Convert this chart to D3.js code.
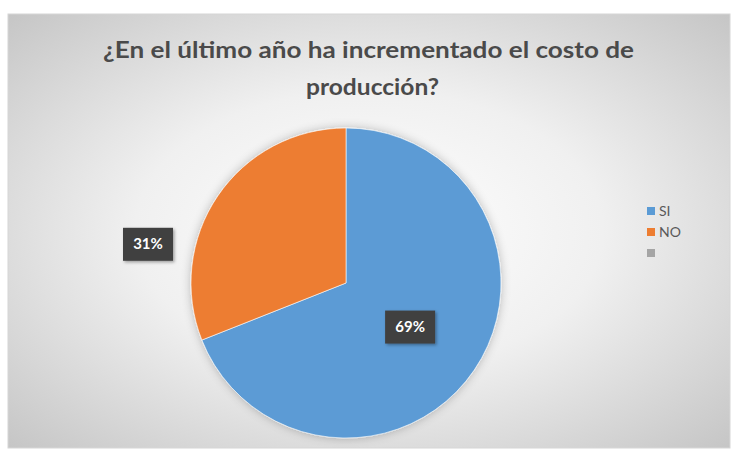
<!DOCTYPE html>
<html>
<head>
<meta charset="utf-8">
<script src="https://cdn.jsdelivr.net/npm/d3@7"></script>
<style>
  html, body { margin: 0; padding: 0; background: #ffffff; }
  svg { display: block; }
</style>
</head>
<body>
<svg id="chart" width="739" height="455"></svg>
<script>
// Survey answers
const categories = ["SI", "NO", ""];
const values = [69, 31, 0];
const colors = ["#5b9bd5", "#ed7d31", "#a5a5a5"];
const titleLines = ["¿En el último año ha incrementado el costo de", "producción?"];

const W = 739, H = 455;
const frame = { x: 8, y: 14, w: 722, h: 434 };
const cx = 346, cy = 283, r = 155;

const svg = d3.select("#chart");
const defs = svg.append("defs");

const bg = defs.append("radialGradient").attr("id", "bg")
  .attr("cx", "50%").attr("cy", "50%").attr("r", "72%");
bg.append("stop").attr("offset", "0%").attr("stop-color", "#ffffff");
bg.append("stop").attr("offset", "45%").attr("stop-color", "#f0f0f0");
bg.append("stop").attr("offset", "100%").attr("stop-color", "#c4c4c4");

const glow = defs.append("filter").attr("id", "glow")
  .attr("x", "-20%").attr("y", "-20%").attr("width", "140%").attr("height", "140%");
glow.append("feGaussianBlur").attr("in", "SourceAlpha").attr("stdDeviation", 5).attr("result", "b");
glow.append("feFlood").attr("flood-color", "#000").attr("flood-opacity", 0.25);
glow.append("feComposite").attr("in2", "b").attr("operator", "in").attr("result", "s");
const gm = glow.append("feMerge");
gm.append("feMergeNode").attr("in", "s");
gm.append("feMergeNode").attr("in", "SourceGraphic");

const lblShadow = defs.append("filter").attr("id", "lblShadow")
  .attr("x", "-30%").attr("y", "-30%").attr("width", "160%").attr("height", "160%");
lblShadow.append("feDropShadow").attr("dx", 1.5).attr("dy", 1.5).attr("stdDeviation", 1.5)
  .attr("flood-color", "#000").attr("flood-opacity", 0.35);

svg.append("rect")
  .attr("x", frame.x).attr("y", frame.y).attr("width", frame.w).attr("height", frame.h)
  .attr("fill", "url(#bg)").attr("stroke", "#d6d6d6").attr("stroke-width", 1);

// Title, two centred lines stretched to the header width
const titleWidths = [531, 133];
const titleX = [368.5, 372.5];
svg.append("g").selectAll("text").data(titleLines).join("text")
  .attr("x", (d, i) => titleX[i])
  .attr("y", (d, i) => 58 + i * 37)
  .attr("text-anchor", "middle")
  .attr("font-family", "Lato, 'Open Sans', sans-serif")
  .attr("font-weight", "bold")
  .attr("font-size", 23)
  .attr("textLength", (d, i) => titleWidths[i])
  .attr("lengthAdjust", "spacingAndGlyphs")
  .attr("fill", "#4a4a4a")
  .text(d => d);

// Pie
const data = categories.map((c, i) => ({ cat: c, value: values[i], color: colors[i] }));
const pie = d3.pie().value(d => d.value).sort(null);
const arcs = pie(data);
const arc = d3.arc().innerRadius(0).outerRadius(r);

const g = svg.append("g").attr("transform", `translate(${cx},${cy})`);
g.append("g").attr("filter", "url(#glow)")
  .selectAll("path").data(arcs.filter(a => a.data.value > 0)).join("path")
  .attr("d", arc)
  .attr("fill", d => d.data.color)
  .attr("stroke", "#ffffff").attr("stroke-width", 0.6);

// Data labels: large slice inside, small slice outside at the left
const total = d3.sum(values);
const fmt = v => Math.round(v / total * 100) + "%";
const inner = d3.arc().innerRadius(r * 0.5).outerRadius(r * 0.5);

function labelPos(a) {
  if (a.endAngle - a.startAngle > Math.PI) {
    return inner.centroid(a);
  }
  const mid = (a.startAngle + a.endAngle) / 2;
  return [-r - 43, -Math.cos(mid) * r * 0.45];
}

const lbl = g.append("g").selectAll("g").data(arcs.filter(a => a.data.value > 0)).join("g")
  .attr("transform", d => `translate(${labelPos(d)})`);
lbl.append("rect")
  .attr("x", -25).attr("y", -16).attr("width", 50).attr("height", 33)
  .attr("fill", "#404040").attr("filter", "url(#lblShadow)");
lbl.append("text")
  .attr("text-anchor", "middle").attr("dy", "0.38em")
  .attr("font-family", "Lato, 'Open Sans', sans-serif")
  .attr("font-weight", "bold").attr("font-size", 15)
  .attr("fill", "#ffffff")
  .text(d => fmt(d.data.value));

// Legend
const leg = svg.append("g").attr("transform", "translate(647,211)");
const item = leg.selectAll("g").data(data).join("g")
  .attr("transform", (d, i) => `translate(0,${i * 21})`);
item.append("rect").attr("x", 0).attr("y", -4).attr("width", 8).attr("height", 8)
  .attr("fill", d => d.color);
item.append("text").attr("x", 12).attr("dy", "0.36em")
  .attr("font-family", "Lato, 'Open Sans', sans-serif")
  .attr("font-size", 14).attr("fill", "#595959")
  .text(d => d.cat);
</script>
</body>
</html>
